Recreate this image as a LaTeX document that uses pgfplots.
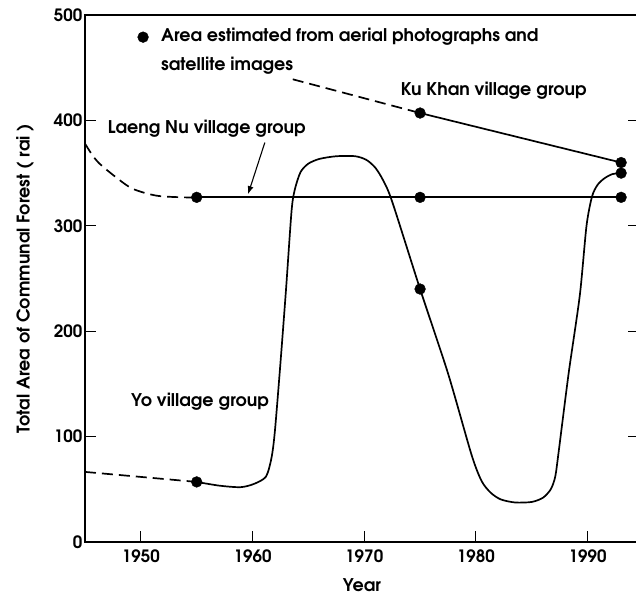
\documentclass[border=0pt]{standalone}
\usepackage{fontspec}
\setmainfont{TeX Gyre Adventor}
\usepackage{pgfplots}
\pgfplotsset{compat=1.18}
\usetikzlibrary{arrows.meta}
\newcommand{\lbl}{\bfseries\fontsize{17.5bp}{20bp}\selectfont}
\begin{document}
\begin{tikzpicture}
\path[use as bounding box] (0,0) rectangle (636bp,594bp);
\begin{axis}[
  at={(85bp,52bp)}, anchor=south west,
  scale only axis, width=554bp, height=527bp,
  xmin=1945, xmax=1994.6, ymin=0, ymax=500,
  xtick={1950,1960,1970,1980,1990}, ytick={0,100,200,300,400,500},
  xtick pos=bottom, ytick pos=both,
  tick align=inside, major tick length=11bp,
  axis line style={line width=1.8pt},
  every tick/.style={line width=1pt, black},
  /pgf/number format/assume math mode=true,
  /pgf/number format/1000 sep={},
  ticklabel style={font=\bfseries\fontsize{17bp}{19bp}\selectfont},
  xticklabel style={yshift=-4bp},
  yticklabel style={xshift=1bp},
  xlabel={Year}, ylabel={Total Area of Communal Forest ( rai )},
  label style={font=\lbl},
  xlabel style={at={(axis description cs:0.5,0)}, anchor=base, yshift=-49bp},
  ylabel style={at={(axis description cs:-0.108,0.5)}, anchor=center},
  clip=false,
]
% Laeng Nu
\addplot[black, line width=1.7pt, dash pattern=on 11bp off 6bp, smooth, tension=0.5] coordinates {
 (1945,378) (1945.6,368) (1946.3,359) (1947.9,345) (1949.3,335) (1951.4,328.6) (1953.8,327) (1955,327)};
\addplot[black, line width=1.7pt] coordinates {(1955,327) (1975,327) (1993,327)};
% Ku Khan
\addplot[black, line width=1.7pt, dash pattern=on 11bp off 6bp] coordinates {(1963.6,439) (1975,407)};
\addplot[black, line width=1.7pt] coordinates {(1975,407) (1993,360)};
% Yo
\addplot[black, line width=1.7pt, dash pattern=on 11bp off 6bp] coordinates {(1945,66.5) (1955,57)};
\addplot[black, line width=1.7pt, smooth, tension=0.45] coordinates {
 (1955,57) (1957,53.5) (1958.9,52) (1960.1,55) (1961.2,62) (1961.7,80) (1962.0,105) (1962.5,170)
 (1963.0,240) (1963.5,315) (1963.8,335) (1964.3,351) (1965,359) (1966,363.5) (1967.5,366) (1969.2,366)
 (1970.2,362.5) (1971.0,355) (1971.7,343) (1972.5,323) (1975,240) (1977.5,160) (1979.6,83) (1980.5,58)
 (1981.3,47) (1982.2,40.5) (1983.5,37.5) (1985,38) (1986,42) (1986.7,50) (1987.1,62) (1987.4,85)
 (1988.3,160) (1989.3,234) (1989.9,300) (1990.4,328) (1990.9,339) (1991.5,345) (1992.2,349) (1993,350)};
% markers
\addplot[only marks, mark=*, mark size=5.4bp, black] coordinates {
 (1955,327) (1975,327) (1993,327) (1975,407) (1993,360) (1955,57) (1975,240) (1993,350) (1950.2,479)};
% labels
\node[font=\lbl, anchor=west] at (axis cs:1951.5,479) {Area estimated from aerial photographs and};
\node[font=\lbl, anchor=west] at (axis cs:1951.5,452) {satellite images};
\node[font=\lbl] at (axis cs:1981.6,428.6) {Ku Khan village group};
\node[font=\lbl] at (axis cs:1955.9,392) {Laeng Nu village group};
\node[font=\lbl] at (axis cs:1955.3,133) {Yo village group};
\draw[-{Latex[length=8bp,width=6bp]}, line width=1.1pt] (axis cs:1961.1,379) -- (axis cs:1959.6,330);
\end{axis}
\end{tikzpicture}
\end{document}
